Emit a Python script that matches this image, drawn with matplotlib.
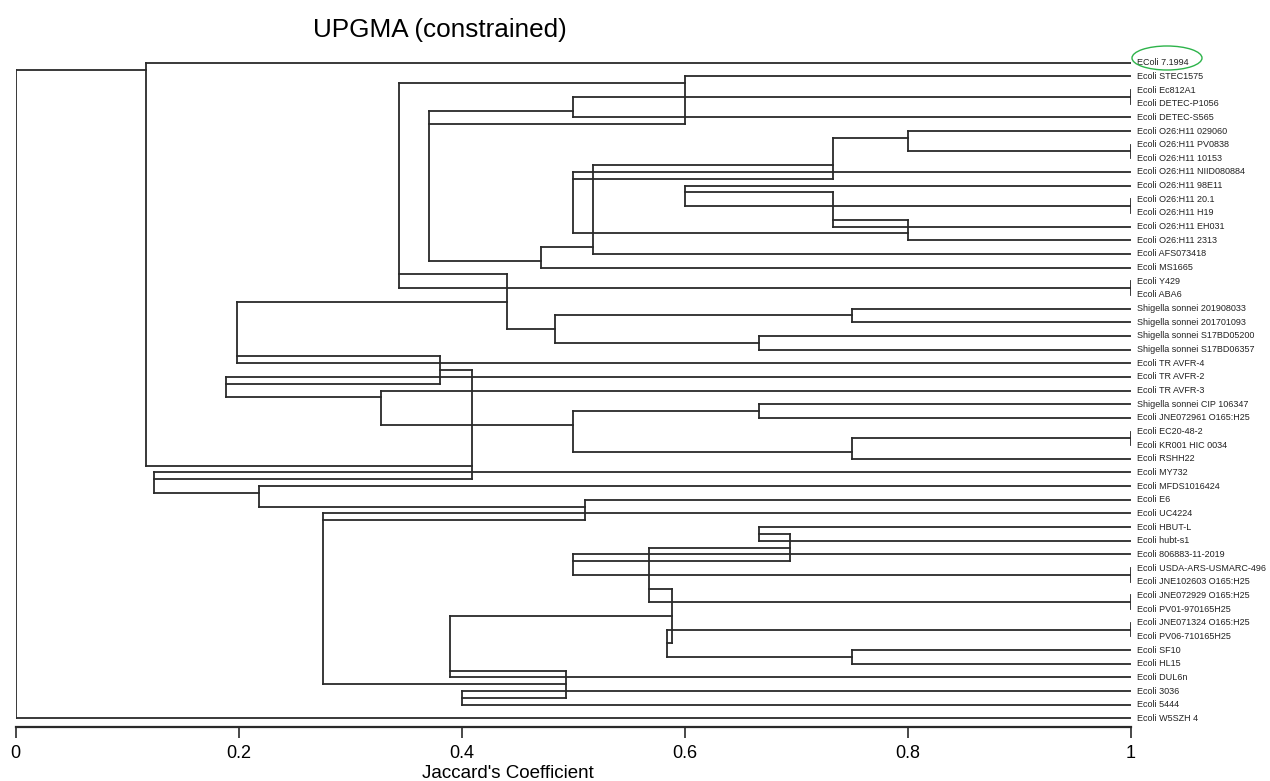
import matplotlib
matplotlib.use("Agg")
import matplotlib.pyplot as plt
from matplotlib.patches import Ellipse

# leaf labels, top to bottom (row 1 .. 49)
leaf_labels = [
    "EColi 7.1994", "Ecoli STEC1575", "Ecoli Ec812A1", "Ecoli DETEC-P1056",
    "Ecoli DETEC-S565", "Ecoli O26:H11 029060", "Ecoli O26:H11 PV0838",
    "Ecoli O26:H11 10153", "Ecoli O26:H11 NIID080884", "Ecoli O26:H11 98E11",
    "Ecoli O26:H11 20.1", "Ecoli O26:H11 H19", "Ecoli O26:H11 EH031",
    "Ecoli O26:H11 2313", "Ecoli AFS073418", "Ecoli MS1665", "Ecoli Y429",
    "Ecoli ABA6", "Shigella sonnei 201908033", "Shigella sonnei 201701093",
    "Shigella sonnei S17BD05200", "Shigella sonnei S17BD06357",
    "Ecoli TR AVFR-4", "Ecoli TR AVFR-2", "Ecoli TR AVFR-3",
    "Shigella sonnei CIP 106347", "Ecoli JNE072961 O165:H25", "Ecoli EC20-48-2",
    "Ecoli KR001 HIC 0034", "Ecoli RSHH22", "Ecoli MY732", "Ecoli MFDS1016424",
    "Ecoli E6", "Ecoli UC4224", "Ecoli HBUT-L", "Ecoli hubt-s1",
    "Ecoli 806883-11-2019", "Ecoli USDA-ARS-USMARC-496",
    "Ecoli JNE102603 O165:H25", "Ecoli JNE072929 O165:H25",
    "Ecoli PV01-970165H25", "Ecoli JNE071324 O165:H25", "Ecoli PV06-710165H25",
    "Ecoli SF10", "Ecoli HL15", "Ecoli DUL6n", "Ecoli 3036", "Ecoli 5444",
    "Ecoli W5SZH 4",
]

# clusters: name, first member, second member (int = leaf row, str = cluster)
node_names = ["p3", "p7", "p11", "p17", "p28", "p38", "p40", "p42",
              "c19", "c21", "c26", "c29", "c35", "c44", "c47",
              "c6", "c10", "c12", "c13", "c9", "c8", "c14", "c15",
              "c4", "c5", "c2", "c16", "c20", "c18", "c22",
              "c27", "c25", "c24", "c23",
              "c37", "c36", "c39", "c43", "c41", "c45", "c46", "c34", "c33",
              "c32", "c31", "c30", "c1", "root"]
node_first = [3, 7, 11, 17, 28, 38, 40, 42,
              19, 21, 26, "p28", 35, 44, 47,
              6, 10, "c10", "c12", 9, "c6", "c8", "c14",
              "p3", "c4", 2, "c2", "c19", "c16", "c18",
              "c26", 25, 24, "c22",
              37, "c35", "c36", "p42", "c39", "c41", "c45", 34, 33,
              32, 31, "c23", 1, "c1"]
node_second = [4, 8, 12, 18, 29, 39, 41, 43,
               20, 22, 27, 30, 36, 45, 48,
               "p7", "p11", 13, 14, "c13", "c9", 15, 16,
               5, "c15", "c5", "p17", "c21", "c20", 23,
               "c29", "c27", "c25", "c24",
               "p38", "c37", "p40", "c44", "c43", 46, "c47", "c46", "c34",
               "c33", "c32", "c31", "c30", 49]
node_sim = [1, 1, 1, 1, 1, 1, 1, 1,
            0.75, 0.667, 0.667, 0.75, 0.667, 0.75, 0.4,
            0.8, 0.6, 0.733, 0.8, 0.5, 0.733, 0.518, 0.471,
            0.5, 0.371, 0.6, 0.344, 0.484, 0.441, 0.199,
            0.5, 0.328, 0.189, 0.381,
            0.5, 0.695, 0.568, 0.584, 0.589, 0.39, 0.494, 0.276, 0.511,
            0.218, 0.1245, 0.409, 0.117, 0.0]
# row at which each cluster's stem is drawn
node_row = [3.5, 7.5, 11.5, 17.5, 28.5, 38.5, 40.5, 42.5,
            19.5, 21.5, 26.5, 29.5, 35.5, 44.5, 47.5,
            6.5, 10.5, 12.5, 13.5, 9.5, 8.5, 14.5, 15.5,
            4.5, 5.5, 2.5, 16.5, 20.5, 18.5, 22.5,
            27.5, 25.5, 24.5, 23.5,
            37.5, 36.5, 39.5, 43.5, 41.5, 45.5, 46.5, 34.5, 33.5,
            32.5, 31.5, 30.5, 1.5, 0]

ticks = [0, 0.2, 0.4, 0.6, 0.8, 1]
tick_labels = ["0", "0.2", "0.4", "0.6", "0.8", "1"]

sim = dict(zip(node_names, node_sim))
row = dict(zip(node_names, node_row))


def end(m):
    if isinstance(m, str):
        return sim[m], row[m]
    return 1.0, m


W, H = 1270, 781
fig = plt.figure(figsize=(W / 100, H / 100), dpi=100)
x0, x1 = 15.5, 1130.5
top_px, bot_px = 40, 727
r1, step = 62.7, 13.66
ax = fig.add_axes([x0 / W, 1 - bot_px / H, (x1 - x0) / W, (bot_px - top_px) / H])
ax.set_xlim(0, 1)
ax.set_ylim(1 + (bot_px - r1) / step, 1 + (top_px - r1) / step)

lc = "#2a2a2a"
lw = 1.3
for name, a, b, s in zip(node_names, node_first, node_second, node_sim):
    xa, ra = end(a)
    xb, rb = end(b)
    ax.plot([s, s], [ra, rb], color=lc, lw=lw, solid_capstyle="projecting")
    ax.plot([s, xa], [ra, ra], color=lc, lw=lw, solid_capstyle="projecting")
    ax.plot([s, xb], [rb, rb], color=lc, lw=lw, solid_capstyle="projecting")

for i, lab in enumerate(leaf_labels):
    ax.text(1.0055, i + 1, lab, fontsize=6.5, va="center", ha="left",
            family=["Liberation Sans", "DejaVu Sans"], color="#222222", clip_on=False)

for sp in ["top", "right", "left"]:
    ax.spines[sp].set_visible(False)
ax.spines["bottom"].set_linewidth(1.6)
ax.spines["bottom"].set_color(lc)
ax.set_yticks([])
ax.set_xticks(ticks)
ax.set_xticklabels(tick_labels, family=["Liberation Sans Narrow", "Liberation Sans"],
                   fontsize=13)
ax.tick_params(axis="x", length=8, width=1.2, color=lc, pad=5)

fig.text(508 / W, 1 - 773 / H, "Jaccard's Coefficient", ha="center", va="center",
         fontsize=13.5, family=["Liberation Sans Narrow", "Liberation Sans"])
fig.text(440 / W, 1 - 30 / H, "UPGMA (constrained)", ha="center", va="center",
         fontsize=18.8, family=["Liberation Sans", "DejaVu Sans"])

fig.add_artist(Ellipse((1167 / W, 1 - 58 / H), 70 / W, 24 / H, transform=fig.transFigure,
                       fill=False, ec="#2db34a", lw=1.0))

fig.savefig("out.png", dpi=100)
